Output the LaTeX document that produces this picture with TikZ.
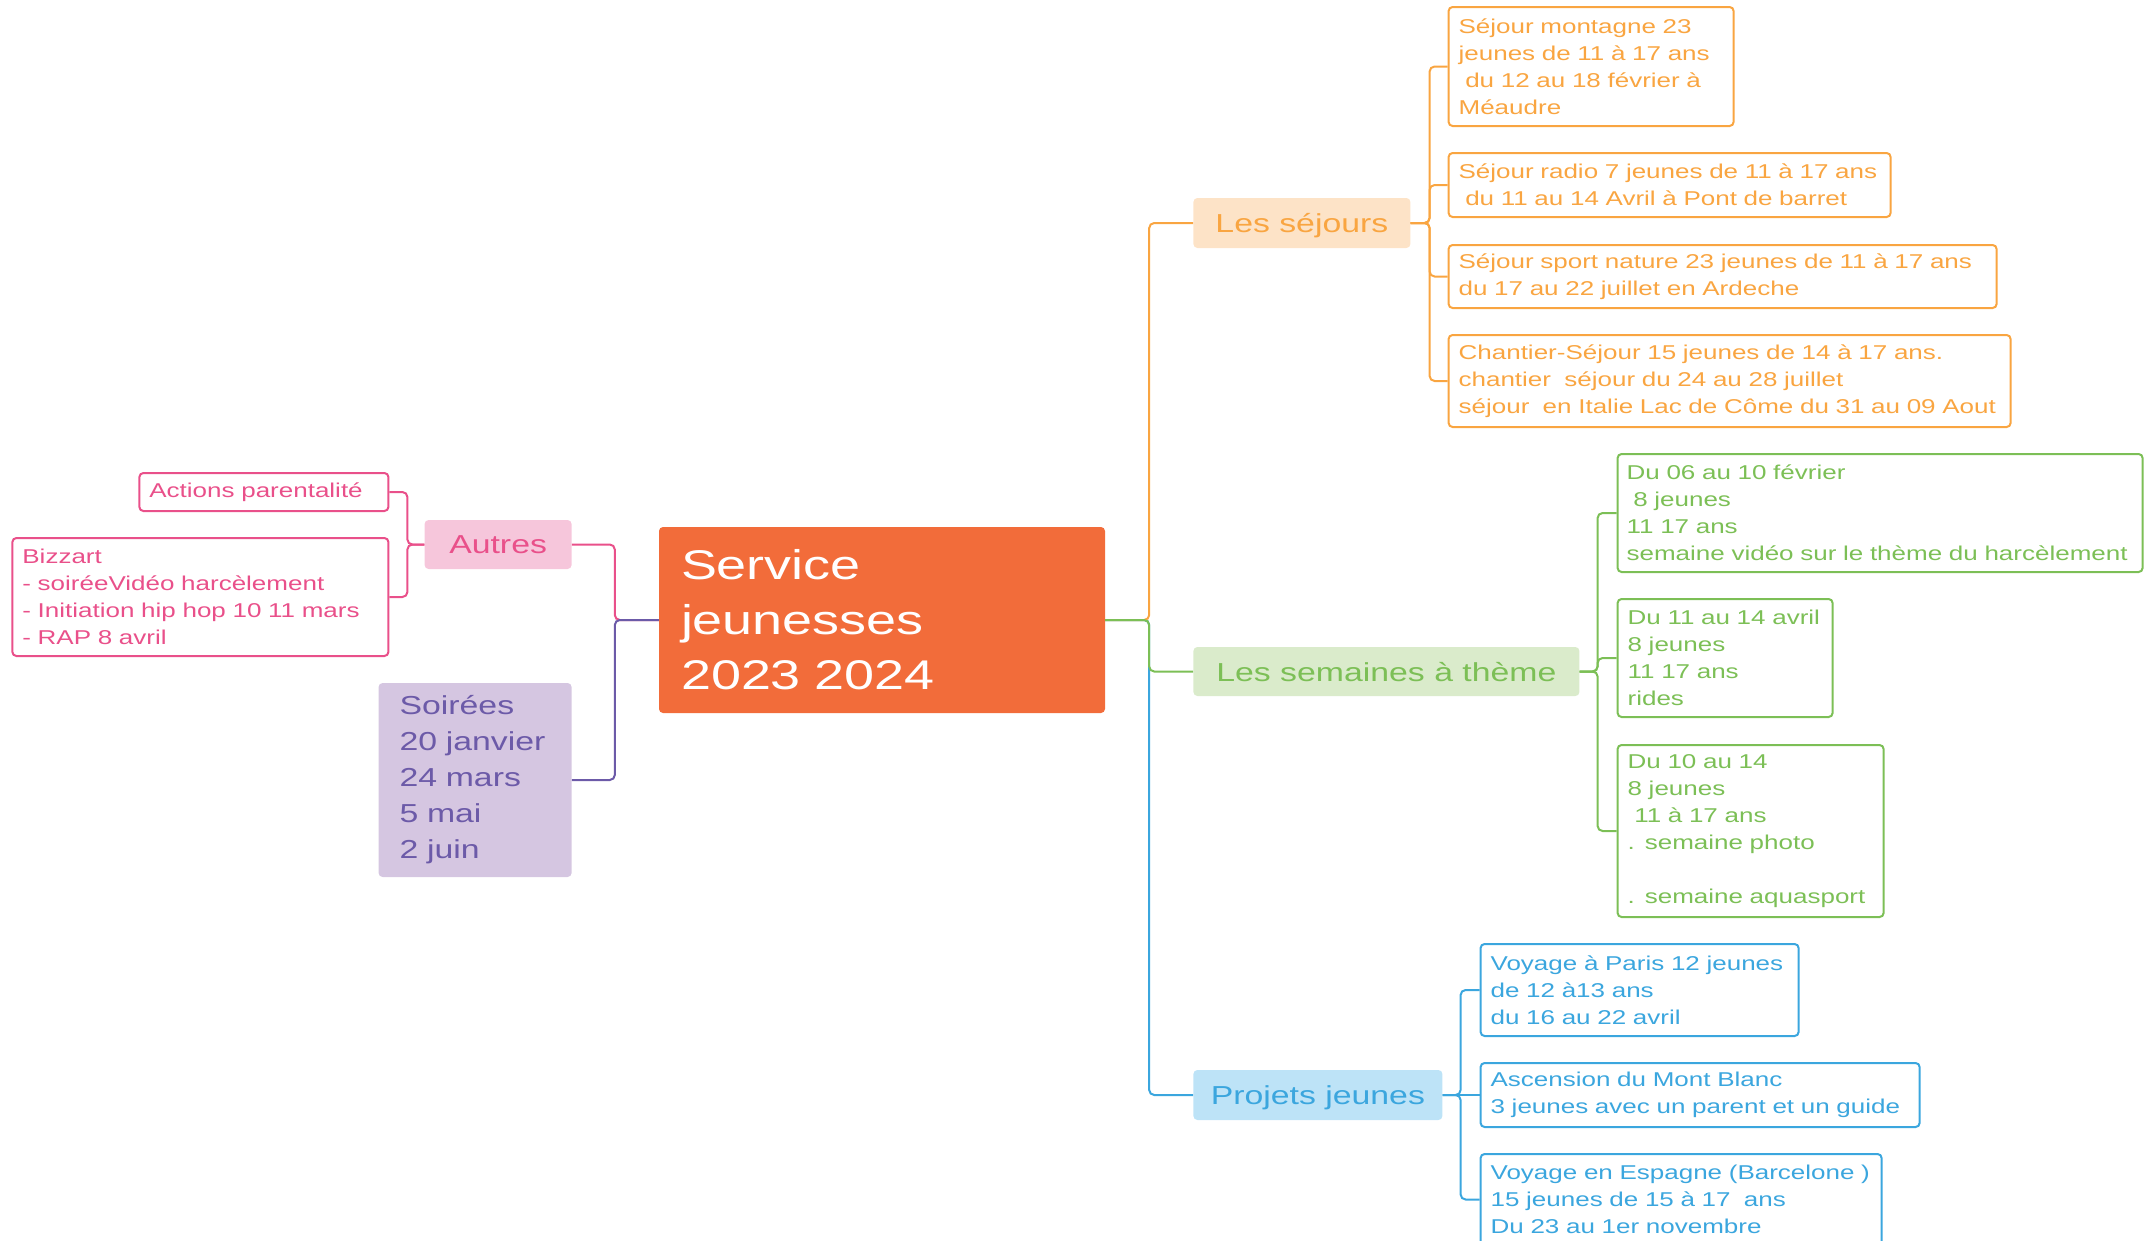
\documentclass[tikz,border=0pt]{standalone}
\usepackage{fontspec}
\setmainfont{Liberation Sans}[FakeStretch=1.30]
\usetikzlibrary{positioning}
\definecolor{rootcol}{HTML}{F26C3A}
\definecolor{sejcol}{HTML}{F9A541}
\definecolor{sejfill}{HTML}{FDE3C7}
\definecolor{semcol}{HTML}{7CBF56}
\definecolor{semfill}{HTML}{DAEBCB}
\definecolor{projcol}{HTML}{3BA6DE}
\definecolor{projfill}{HTML}{BDE3F7}
\definecolor{autcol}{HTML}{E9508A}
\definecolor{autfill}{HTML}{F6C6DB}
\definecolor{soircol}{HTML}{6C5AA8}
\definecolor{soirfill}{HTML}{D5C6E1}
\tikzstyle{root} = [rectangle,rounded corners=4pt,fill=rootcol,text=white,align=left,inner xsep=22pt,minimum height=186pt,text width=402pt,font=\fontsize{41.5}{55}\selectfont]
\tikzstyle{topic} = [rectangle,rounded corners=4pt,align=left,inner sep=0pt,font=\fontsize{26}{36}\selectfont]
\tikzstyle{branch} = [topic,text depth=0pt]
\tikzstyle{leaf} = [rectangle,draw,rounded corners=4pt,line width=2pt,align=left,inner xsep=10pt,inner ysep=0pt,font=\fontsize{20}{27}\selectfont]
\tikzstyle{sejleaf} = [leaf,draw=sejcol,text=sejcol]
\tikzstyle{semleaf} = [leaf,draw=semcol,text=semcol]
\tikzstyle{projleaf} = [leaf,draw=projcol,text=projcol]
\tikzstyle{autleaf} = [leaf,draw=autcol,text=autcol]
\tikzstyle{link} = [line width=2pt,rounded corners=5pt]

\begin{document}
\begin{tikzpicture}
    	\useasboundingbox (0,0) rectangle (2145pt,-1240pt);

    	\node[root](service) at (882pt,-620pt) {Service\\jeunesses\\2023 2024};

    	\node[branch,fill=projfill,text=projcol,minimum width=249pt,minimum height=50pt,right=88pt of service,yshift=-475pt](projets) {Projets jeunes};
    	\draw[link,projcol] (service.east) -- ++(44pt,0) |- (projets.west);

    	\node[branch,fill=sejfill,text=sejcol,minimum width=217pt,minimum height=50pt,right=88pt of service,yshift=397pt](sejours) {Les séjours};
    	\draw[link,sejcol] (service.east) -- ++(44pt,0) |- (sejours.west);

    	\node[branch,fill=semfill,text=semcol,minimum width=386pt,minimum height=49pt,right=88pt of service,yshift=-51.5pt](semaines) {Les semaines à thème};
    	\draw[link,semcol] (service.east) -- ++(44pt,0) |- (semaines.west);


    	\node[sejleaf,text width=265pt,minimum height=119pt,right=37pt of sejours,yshift=156.5pt](montagne) {Séjour montagne 23\\jeunes de 11 à 17 ans\\~du 12 au 18 février à\\Méaudre};
    	\draw[link,sejcol] (sejours.east) -- ++(19pt,0) |- (montagne.west);

    	\node[sejleaf,text width=422pt,minimum height=64pt,right=37pt of sejours,yshift=38pt](radio) {Séjour radio 7 jeunes de 11 à 17 ans\\~du 11 au 14 Avril à Pont de barret};
    	\draw[link,sejcol] (sejours.east) -- ++(19pt,0) |- (radio.west);

    	\node[sejleaf,text width=528pt,minimum height=63pt,right=37pt of sejours,yshift=-53.5pt](sport) {Séjour sport nature 23 jeunes de 11 à 17 ans\\du 17 au 22 juillet en Ardeche};
    	\draw[link,sejcol] (sejours.east) -- ++(19pt,0) |- (sport.west);

    	\node[sejleaf,text width=542pt,minimum height=92pt,right=37pt of sejours,yshift=-158pt](chantier) {Chantier-Séjour 15 jeunes de 14 à 17 ans.\\chantier~ séjour du 24 au 28 juillet\\séjour~ en Italie Lac de Côme du 31 au 09 Aout};
    	\draw[link,sejcol] (sejours.east) -- ++(19pt,0) |- (chantier.west);


    	\node[semleaf,inner xsep=9pt,text width=507pt,minimum height=118pt,right=37pt of semaines,yshift=158.5pt](fevrier) {Du 06 au 10 février\\~8 jeunes\\11 17 ans\\semaine vidéo sur le thème du harcèlement};
    	\draw[link,semcol] (semaines.east) -- ++(18pt,0) |- (fevrier.west);

    	\node[semleaf,text width=195pt,minimum height=118pt,right=37pt of semaines,yshift=13.5pt](avril) {Du 11 au 14 avril\\8 jeunes\\11 17 ans\\rides};
    	\draw[link,semcol] (semaines.east) -- ++(18pt,0) |- (avril.west);

    	\node[semleaf,text width=246pt,minimum height=172pt,right=37pt of semaines,yshift=-159.5pt](photo) {Du 10 au 14\\8 jeunes\\~11 à 17 ans\\. semaine photo\\\mbox{}\\. semaine aquasport};
    	\draw[link,semcol] (semaines.east) -- ++(18pt,0) |- (photo.west);


    	\node[projleaf,text width=298pt,minimum height=92pt,right=37pt of projets,yshift=105pt](paris) {Voyage à Paris 12 jeunes\\de 12 à13 ans\\du 16 au 22 avril};
    	\draw[link,projcol] (projets.east) -- ++(18pt,0) |- (paris.west);

    	\node[projleaf,text width=419pt,minimum height=64pt,right=37pt of projets](montblanc) {Ascension du Mont Blanc\\3 jeunes avec un parent et un guide};
    	\draw[link,projcol] (projets.east) -- (montblanc.west);

    	\node[projleaf,text width=381pt,minimum height=91pt,right=37pt of projets,yshift=-104.5pt](espagne) {Voyage en Espagne (Barcelone )\\15 jeunes de 15 à 17~ ans\\Du 23 au 1er novembre};
    	\draw[link,projcol] (projets.east) -- ++(18pt,0) |- (espagne.west);


    	\node[branch,fill=autfill,text=autcol,minimum width=147pt,minimum height=49pt,left=87pt of service,yshift=75.5pt](autres) {Autres};
    	\draw[link,autcol] (service.west) -- ++(-44pt,0) |- (autres.east);

    	\node[topic,fill=soirfill,text=soircol,inner xsep=21pt,text width=151pt,minimum height=194pt,left=87pt of service,yshift=-160pt](soirees) {Soirées\\20 janvier\\24 mars\\5 mai\\2 juin};
    	\draw[link,soircol] (service.west) -- ++(-44pt,0) |- (soirees.east);

    	\node[autleaf,text width=229pt,minimum height=38pt,left=35pt of autres,yshift=52.5pt](parentalite) {Actions parentalité};
    	\draw[link,autcol] (autres.west) -- ++(-17pt,0) |- (parentalite.east);

    	\node[autleaf,text width=356pt,minimum height=118pt,left=35pt of autres,yshift=-52.5pt](bizzart) {Bizzart\\- soiréeVidéo harcèlement\\- Initiation hip hop 10 11 mars\\- RAP 8 avril};
    	\draw[link,autcol] (autres.west) -- ++(-17pt,0) |- (bizzart.east);

\end{tikzpicture}
\end{document}
